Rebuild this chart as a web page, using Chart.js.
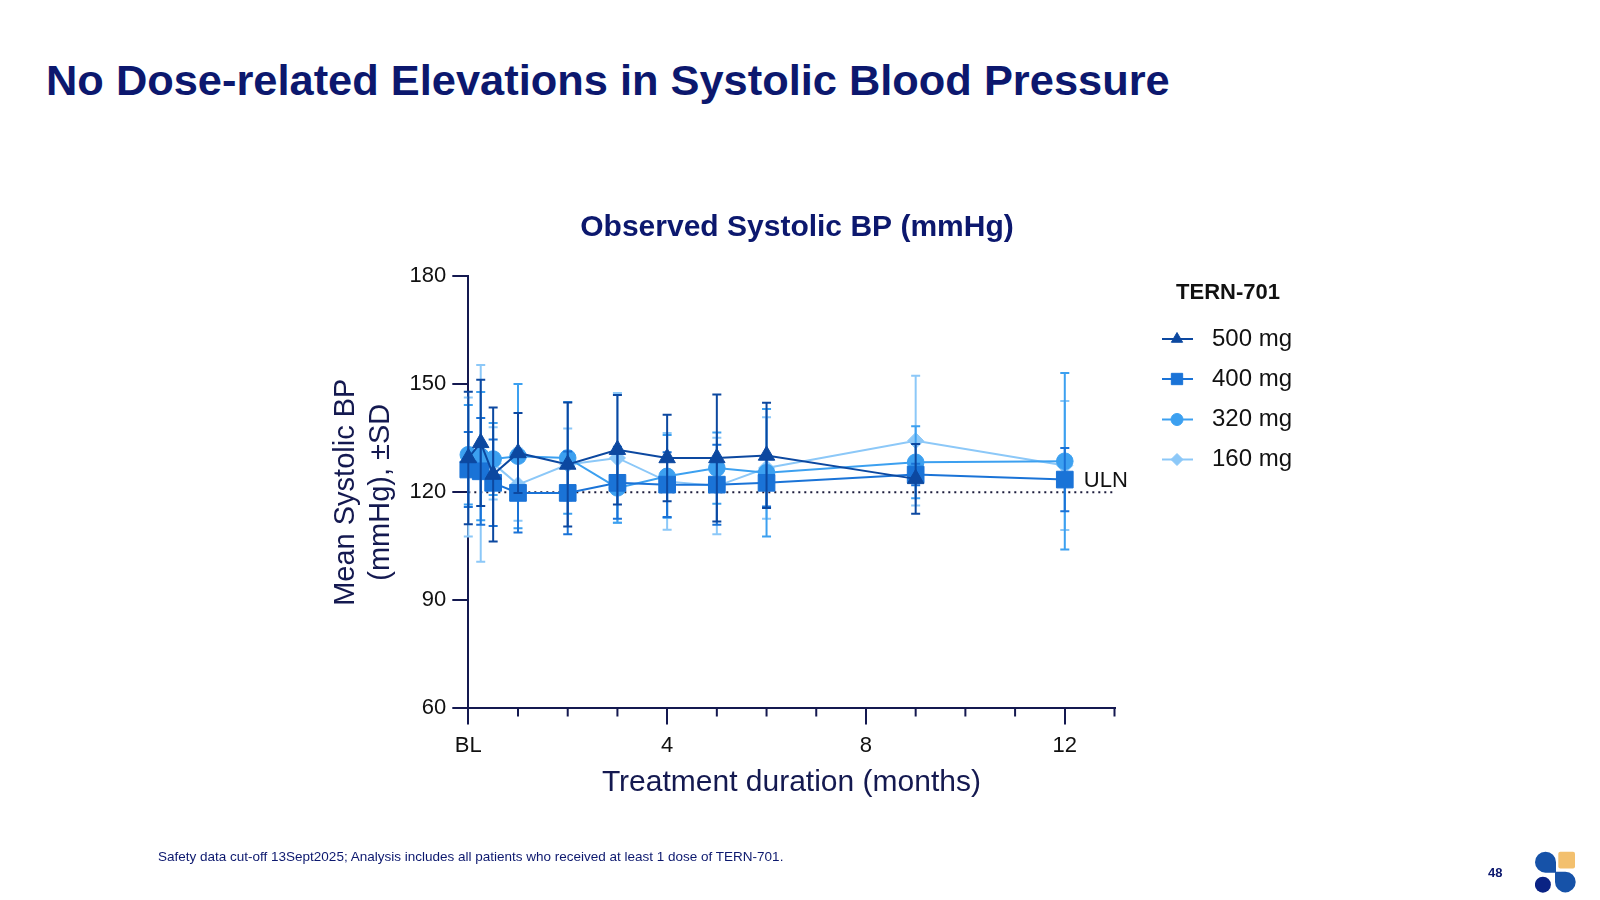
<!DOCTYPE html>
<html>
<head>
<meta charset="utf-8">
<title>No Dose-related Elevations in Systolic Blood Pressure</title>
<script src="https://cdn.jsdelivr.net/npm/chart.js@4.4.1/dist/chart.umd.min.js"></script>
<style>
  html, body { margin: 0; padding: 0; background: #fff; }
  body { width: 1600px; height: 900px; position: relative; overflow: hidden; font-family: 'Liberation Sans', Arial, sans-serif; }
  #chart { position: absolute; left: 0; top: 0; }
  .slide-title { position: absolute; left: 46px; top: 59px; margin: 0; font-size: 43.4px; line-height: 43px; font-weight: bold; color: #0c186e; white-space: nowrap; }
  .footnote { position: absolute; left: 158px; top: 850px; font-size: 13.5px; line-height: 13px; color: #0c186e; white-space: nowrap; }
  .page-num { position: absolute; left: 1488px; top: 866px; font-size: 13px; line-height: 13px; font-weight: bold; color: #0c186e; }
  .logo { position: absolute; left: 1535px; top: 851px; }
</style>
</head>
<body>
<h1 class="slide-title">No Dose-related Elevations in Systolic Blood Pressure</h1>
<canvas id="chart" width="1600" height="900"></canvas>
<div class="footnote">Safety data cut-off 13Sept2025; Analysis includes all patients who received at least 1 dose of TERN-701.</div>
<div class="page-num">48</div>
<svg class="logo" width="41" height="42" viewBox="0 0 41 42">
  <path d="M10.5 0.7 A10.5 10.5 0 0 1 21 11.2 L21 21.7 L10.5 21.7 A10.5 10.5 0 0 1 0 11.2 A10.5 10.5 0 0 1 10.5 0.7 Z" fill="#1652a8"/>
  <rect x="23.3" y="0.7" width="16.7" height="16.7" rx="2" fill="#f3c06e"/>
  <circle cx="7.9" cy="33.7" r="8" fill="#0a2384"/>
  <path d="M20 20.7 L30.35 20.7 A10.35 10.35 0 0 1 40.7 31.05 A10.35 10.35 0 0 1 30.35 41.4 A10.35 10.35 0 0 1 20 31.05 Z" fill="#1652a8"/>
</svg>
<script>
// Observed systolic BP by TERN-701 dose, mean +/- SD over treatment months

const chartTitle = 'Observed Systolic BP (mmHg)';
const legendTitle = 'TERN-701';
const xAxisTitle = 'Treatment duration (months)';
const yAxisTitle = ['Mean Systolic BP', '(mmHg), \u00b1SD'];

// visit times in months (BL = 0)
const months = [0, 0.25, 0.5, 1, 2, 3, 4, 5, 6, 9, 12];

const xMajorTicks = [0, 4, 8, 12];
const xMajorLabels = ['BL', '4', '8', '12'];
const xMinorTicks = [1, 2, 3, 5, 6, 7, 9, 10, 11, 13];
const xMax = 13;
const yTicks = [60, 90, 120, 150, 180];

const doseLabels = ['500 mg', '400 mg', '320 mg', '160 mg'];

const mean500 = [129.5, 133.7, 124.9, 130.9, 127.7, 131.8, 129.5, 129.5, 130.2, 123.7, null];
const sd500   = [18.4, 17.5, 18.6, 11.1, 17.2, 15.2, 12.0, 17.6, 14.6, 9.7, null];

const mean400 = [126.3, 125.8, 122.6, 119.8, 119.8, 122.6, 122.1, 122.1, 122.6, 124.9, 123.5];
const sd400   = [10.4, 14.8, 12.0, 11.0, 11.5, 10.0, 9.0, 11.1, 6.6, 3.0, 8.8];

const mean320 = [130.4, 130.0, 129.2, 130.0, 129.5, 121.2, 124.4, 126.7, 125.4, 128.3, 128.6];
const sd320   = [13.8, 17.8, 10.0, 20.0, 15.5, 9.7, 11.5, 9.9, 17.7, 10.0, 24.5];

const mean160 = [127.0, 128.0, 128.0, 122.1, 127.7, 129.5, 123.0, 121.7, 126.7, 134.3, 127.4];
const sd160   = [19.3, 27.3, 10.0, 10.0, 10.0, 18.0, 13.4, 13.4, 14.1, 18.0, 17.9];

const uln = 120;
const ulnLabel = 'ULN';

const navy = '#141950';
const textColor = '#111111';
const fontFamily = "'Liberation Sans', Arial, sans-serif";

Chart.defaults.font.family = fontFamily;

const series = [
    { mean: mean500, sd: sd500, color: '#0c48a0', style: 'triangle', radius: 9.5, legendRadius: 6.5 },
    { mean: mean400, sd: sd400, color: '#1a73d7', style: 'rect', radius: 11.8, legendRadius: 8 },
    { mean: mean320, sd: sd320, color: '#3ca0f0', style: 'circle', radius: 8.3, legendRadius: 6 },
    { mean: mean160, sd: sd160, color: '#8cc8f8', style: 'rectRot', radius: 8, legendRadius: 6 }
];

const datasets = series.map(function (s, k) {
    const points = [];
    months.forEach(function (m, i) {
        if (s.mean[i] !== null) points.push({ x: m, y: s.mean[i], sd: s.sd[i] });
    });
    return {
        label: doseLabels[k],
        data: points,
        borderColor: s.color,
        backgroundColor: s.color,
        pointBackgroundColor: s.color,
        pointBorderColor: s.color,
        pointBorderWidth: 1,
        pointStyle: s.style,
        pointRadius: s.radius,
        legendRadius: s.legendRadius,
        borderWidth: 2,
        tension: 0,
        clip: false,
        errorBars: true
    };
});

// dotted ULN reference, drawn underneath everything (last index draws first)
datasets.push({
    label: ulnLabel,
    data: [{ x: 0, y: uln }, { x: xMax, y: uln }],
    borderColor: '#1c1c3c',
    borderWidth: 2,
    borderDash: [2, 4],
    pointRadius: 0,
    clip: false,
    errorBars: false
});

const errorBarPlugin = {
    id: 'errorBars',
    beforeDatasetDraw: function (chart, args) {
        const ds = chart.data.datasets[args.index];
        if (!ds.errorBars) return;
        const ctx = chart.ctx;
        const yScale = chart.scales.y;
        const cap = 4.5;
        ctx.save();
        ctx.strokeStyle = ds.borderColor;
        ctx.lineWidth = 2;
        args.meta.data.forEach(function (el, j) {
            const raw = ds.data[j];
            const top = yScale.getPixelForValue(raw.y + raw.sd);
            const bottom = yScale.getPixelForValue(raw.y - raw.sd);
            ctx.beginPath();
            ctx.moveTo(el.x, top);
            ctx.lineTo(el.x, bottom);
            ctx.moveTo(el.x - cap, top);
            ctx.lineTo(el.x + cap, top);
            ctx.moveTo(el.x - cap, bottom);
            ctx.lineTo(el.x + cap, bottom);
            ctx.stroke();
        });
        ctx.restore();
    }
};

const decorPlugin = {
    id: 'decor',
    afterDraw: function (chart) {
        const ctx = chart.ctx;
        const xScale = chart.scales.x;
        const yScale = chart.scales.y;
        const axisY = chart.chartArea.bottom;

        // minor ticks on the x axis
        ctx.save();
        ctx.strokeStyle = navy;
        ctx.lineWidth = 2;
        ctx.beginPath();
        xMinorTicks.forEach(function (m) {
            const x = xScale.getPixelForValue(m);
            ctx.moveTo(x, axisY);
            ctx.lineTo(x, axisY + 8);
        });
        ctx.stroke();
        ctx.restore();

        // chart title
        ctx.save();
        ctx.fillStyle = '#0c186e';
        ctx.font = 'bold 30px ' + fontFamily;
        ctx.textAlign = 'center';
        ctx.textBaseline = 'alphabetic';
        ctx.fillText(chartTitle, 797, 236);
        ctx.restore();

        // ULN label next to the last visit
        ctx.save();
        ctx.fillStyle = textColor;
        ctx.font = '22px ' + fontFamily;
        ctx.textAlign = 'left';
        ctx.textBaseline = 'middle';
        ctx.fillText(ulnLabel, xScale.getPixelForValue(12) + 19, yScale.getPixelForValue(uln) - 11);
        ctx.restore();

        // legend with line + marker samples
        const lx0 = 1162, lx1 = 1193, mx = 1177, tx = 1212;
        const rowY = [339, 379, 419.5, 459.5];
        ctx.save();
        ctx.fillStyle = textColor;
        ctx.font = 'bold 22px ' + fontFamily;
        ctx.textAlign = 'center';
        ctx.textBaseline = 'middle';
        ctx.fillText(legendTitle, 1228, 293);
        ctx.restore();

        chart.data.datasets.forEach(function (ds, i) {
            if (!ds.errorBars) return;
            const y = rowY[i];
            ctx.save();
            ctx.strokeStyle = ds.borderColor;
            ctx.lineWidth = 2;
            ctx.beginPath();
            ctx.moveTo(lx0, y);
            ctx.lineTo(lx1, y);
            ctx.stroke();
            ctx.fillStyle = ds.pointBackgroundColor;
            ctx.lineWidth = 1;
            Chart.helpers.drawPoint(ctx, {
                pointStyle: ds.pointStyle,
                radius: ds.legendRadius,
                rotation: 0,
                borderWidth: 1
            }, mx, y);
            ctx.fillStyle = textColor;
            ctx.font = '24px ' + fontFamily;
            ctx.textAlign = 'left';
            ctx.textBaseline = 'middle';
            ctx.fillText(ds.label, tx, y);
            ctx.restore();
        });
    }
};

new Chart(document.getElementById('chart').getContext('2d'), {
    type: 'line',
    data: { datasets: datasets },
    options: {
        responsive: false,
        animation: false,
        events: [],
        layout: {
            padding: { left: 329, right: 485.5, top: 276, bottom: 99.6 }
        },
        plugins: {
            legend: { display: false },
            tooltip: { enabled: false },
            title: { display: false }
        },
        scales: {
            x: {
                type: 'linear',
                min: 0,
                max: xMax,
                border: { color: navy, width: 2 },
                grid: {
                    drawOnChartArea: false,
                    drawTicks: true,
                    tickLength: 16,
                    color: navy,
                    lineWidth: 2
                },
                ticks: {
                    stepSize: 4,
                    includeBounds: false,
                    autoSkip: false,
                    maxRotation: 0,
                    padding: 8,
                    color: textColor,
                    font: { size: 22 },
                    callback: function (value) {
                        const k = xMajorTicks.indexOf(value);
                        return k >= 0 ? xMajorLabels[k] : '';
                    }
                },
                title: {
                    display: true,
                    text: xAxisTitle,
                    color: navy,
                    font: { size: 30 },
                    padding: { top: 0, bottom: 0 }
                },
                afterFit: function (scale) { scale.height = 92; }
            },
            y: {
                type: 'linear',
                min: yTicks[0],
                max: yTicks[yTicks.length - 1],
                border: { color: navy, width: 2 },
                grid: {
                    drawOnChartArea: false,
                    drawTicks: true,
                    tickLength: 16,
                    color: navy,
                    lineWidth: 2
                },
                ticks: {
                    stepSize: yTicks[1] - yTicks[0],
                    padding: 6,
                    color: textColor,
                    font: { size: 22 }
                },
                title: {
                    display: true,
                    text: yAxisTitle,
                    color: navy,
                    font: { size: 29 },
                    padding: { top: 0, bottom: 0 }
                },
                afterFit: function (scale) { scale.width = 139.3; }
            }
        }
    },
    plugins: [errorBarPlugin, decorPlugin]
});
</script>
</body>
</html>
